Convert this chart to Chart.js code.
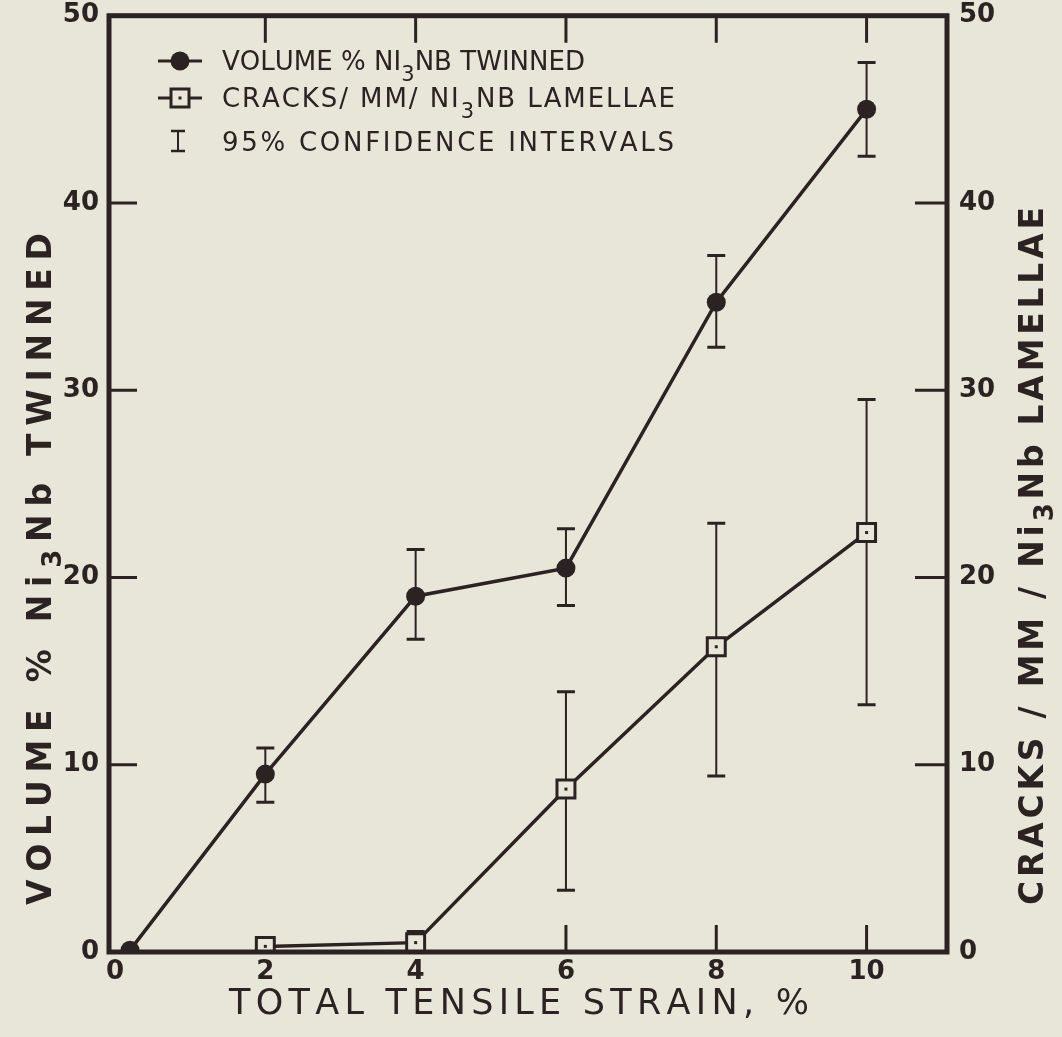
<!DOCTYPE html>
<html>
<head>
<meta charset="utf-8">
<title>Volume % Ni3Nb twinned and cracks vs tensile strain</title>
<script src="https://cdn.jsdelivr.net/npm/chart.js@4/dist/chart.umd.min.js"></script>
<style>
  html, body { margin: 0; padding: 0; background: #e8e6d8; }
  #wrap { width: 1062px; height: 1037px; }
</style>
</head>
<body>
<div id="wrap"><canvas id="chart" width="1062" height="1037"></canvas></div>
<script>
// data
const strain = [0.2, 2, 4, 6, 8, 10];
const volumeTwinned = [0.1, 9.5, 19.0, 20.5, 34.7, 45.0];
const volumeLow = [null, 8.0, 16.7, 18.5, 32.3, 42.5];
const volumeHigh = [null, 10.9, 21.5, 22.6, 37.2, 47.5];

const crackStrain = [2, 4, 6, 8, 10];
const cracksPerMm = [0.3, 0.5, 8.7, 16.3, 22.4];
const cracksLow = [null, 0.0, 3.3, 9.4, 13.2];
const cracksHigh = [null, 1.1, 13.9, 22.9, 29.5];

const xTickValues = [0, 2, 4, 6, 8, 10];
const yTickValues = [0, 10, 20, 30, 40, 50];

// text pieces, [text, isSubscript]
const xTitle = [['TOTAL TENSILE STRAIN, %', 0]];
const yTitle = [['VOLUME % Ni', 0], ['3', 1], ['Nb TWINNED', 0]];
const y2Title = [['CRACKS / MM / Ni', 0], ['3', 1], ['Nb LAMELLAE', 0]];
const legendRows = [
  [['VOLUME % NI', 0], ['3', 1], ['NB TWINNED', 0]],
  [['CRACKS/ MM/ NI', 0], ['3', 1], ['NB LAMELLAE', 0]],
  [['95% CONFIDENCE INTERVALS', 0]]
];

const ink = '#2b2321';
const paper = '#e8e6d8';
const FONT = '"DejaVu Sans", "Liberation Sans", sans-serif';

// draws letters spread out to fill a given width, with lowered subscripts
function drawParts(ctx, parts, x, y, width, size, weight, align, subDrop) {
  const drop = subDrop === undefined ? 0.42 : subDrop;
  const glyphs = [];
  parts.forEach(p => {
    for (const ch of p[0]) glyphs.push({ ch: ch, sub: p[1] });
  });
  let natural = 0;
  glyphs.forEach(g => {
    ctx.font = weight + ' ' + (g.sub ? Math.round(size * 0.8) : size) + 'px ' + FONT;
    g.w = ctx.measureText(g.ch).width;
    natural += g.w;
  });
  const extra = glyphs.length > 1 ? (width - natural) / (glyphs.length - 1) : 0;
  let cx = align === 'center' ? x - width / 2 : x;
  ctx.textAlign = 'left';
  ctx.textBaseline = 'alphabetic';
  glyphs.forEach(g => {
    const s = g.sub ? Math.round(size * 0.8) : size;
    ctx.font = weight + ' ' + s + 'px ' + FONT;
    ctx.fillText(g.ch, cx, y + size * 0.365 + (g.sub ? size * drop : 0));
    cx += g.w + extra;
  });
}

function drawErrorBars(ctx, xs, lows, highs, xScale, yScale) {
  xs.forEach((xv, i) => {
    if (lows[i] === null || highs[i] === null) return;
    const px = xScale.getPixelForValue(xv);
    const lo = yScale.getPixelForValue(lows[i]);
    const hi = yScale.getPixelForValue(highs[i]);
    ctx.lineWidth = 2;
    ctx.beginPath();
    ctx.moveTo(px, lo);
    ctx.lineTo(px, hi);
    ctx.stroke();
    ctx.lineWidth = 3;
    ctx.beginPath();
    ctx.moveTo(px - 9, hi); ctx.lineTo(px + 9, hi);
    ctx.moveTo(px - 9, lo); ctx.lineTo(px + 9, lo);
    ctx.stroke();
  });
}

const errorBarPlugin = {
  id: 'errorBars',
  beforeDatasetsDraw(chart) {
    const ctx = chart.ctx;
    const a = chart.chartArea;
    ctx.save();
    ctx.beginPath();
    ctx.rect(a.left, a.top, a.right - a.left, a.bottom - a.top);
    ctx.clip();
    ctx.strokeStyle = ink;
    drawErrorBars(ctx, strain, volumeLow, volumeHigh, chart.scales.x, chart.scales.y);
    drawErrorBars(ctx, crackStrain, cracksLow, cracksHigh, chart.scales.x, chart.scales.y2);
    ctx.restore();
  }
};

const framePlugin = {
  id: 'frame',
  afterDatasetsDraw(chart) {
    const ctx = chart.ctx;
    const a = chart.chartArea;
    const xs = chart.scales.x, ys = chart.scales.y;
    ctx.save();
    ctx.fillStyle = ink;
    // dot in the middle of each open square
    crackStrain.forEach((xv, i) => {
      const px = xs.getPixelForValue(xv);
      const py = chart.scales.y2.getPixelForValue(cracksPerMm[i]);
      if (py < a.bottom - 3) ctx.fillRect(px - 1.5, py - 1.5, 3, 3);
    });
    ctx.strokeStyle = ink;
    // inward tick marks
    ctx.lineWidth = 3;
    ctx.beginPath();
    xTickValues.forEach(v => {
      const px = xs.getPixelForValue(v);
      if (v > 0) { ctx.moveTo(px, a.top); ctx.lineTo(px, a.top + 27); }
      if (v >= 6) { ctx.moveTo(px, a.bottom); ctx.lineTo(px, a.bottom - 27); }
    });
    yTickValues.forEach(v => {
      if (v === 0 || v === 50) return;
      const py = ys.getPixelForValue(v);
      ctx.moveTo(a.left, py); ctx.lineTo(a.left + 28, py);
      ctx.moveTo(a.right, py); ctx.lineTo(a.right - 32, py);
    });
    ctx.stroke();
    // box
    ctx.lineWidth = 5;
    ctx.lineJoin = 'miter';
    ctx.strokeRect(a.left, a.top, a.right - a.left, a.bottom - a.top);
    ctx.restore();
  }
};

const textPlugin = {
  id: 'texts',
  afterDraw(chart) {
    const ctx = chart.ctx;
    ctx.save();
    ctx.fillStyle = ink;
    ctx.strokeStyle = ink;

    // legend
    const lx = 180, tx = 222;
    const rowY = [61, 98, 142];
    ctx.lineWidth = 3;
    ctx.beginPath();
    ctx.moveTo(158, rowY[0]); ctx.lineTo(202, rowY[0]);
    ctx.moveTo(158, rowY[1]); ctx.lineTo(202, rowY[1]);
    ctx.stroke();
    ctx.beginPath();
    ctx.arc(lx, rowY[0], 9.5, 0, Math.PI * 2);
    ctx.fill();
    ctx.fillStyle = paper;
    ctx.fillRect(lx - 9, rowY[1] - 9, 18, 18);
    ctx.fillStyle = ink;
    ctx.strokeRect(lx - 9, rowY[1] - 9, 18, 18);
    ctx.fillRect(lx - 1.5, rowY[1] - 1.5, 3, 3);
    ctx.lineWidth = 2;
    ctx.beginPath();
    ctx.moveTo(lx - 2, rowY[2] - 11); ctx.lineTo(lx - 2, rowY[2] + 9);
    ctx.stroke();
    ctx.lineWidth = 2.5;
    ctx.beginPath();
    ctx.moveTo(lx - 9, rowY[2] - 11); ctx.lineTo(lx + 5, rowY[2] - 11);
    ctx.moveTo(lx - 9, rowY[2] + 9); ctx.lineTo(lx + 5, rowY[2] + 9);
    ctx.stroke();
    drawParts(ctx, legendRows[0], tx, rowY[0], 363, 26, 'normal', 'left');
    drawParts(ctx, legendRows[1], tx, rowY[1], 453, 26, 'normal', 'left');
    drawParts(ctx, legendRows[2], tx, rowY[2], 452, 26, 'normal', 'left');

    // x axis title
    drawParts(ctx, xTitle, 519, 1001, 580, 35, 'normal', 'center');

    // left title
    ctx.save();
    ctx.translate(39, 569);
    ctx.rotate(-Math.PI / 2);
    drawParts(ctx, yTitle, 0, 0, 672, 33, 'bold', 'center', 0.3);
    ctx.restore();

    // right title
    ctx.save();
    ctx.translate(1031, 556);
    ctx.rotate(-Math.PI / 2);
    drawParts(ctx, y2Title, 0, 0, 698, 33, 'bold', 'center', 0.3);
    ctx.restore();

    ctx.restore();
  }
};

const tickFont = { family: FONT, size: 26, weight: 'bold' };

function noPad(s) {
  s.paddingTop = 0;
  s.paddingBottom = 0;
  s.paddingLeft = 0;
  s.paddingRight = 0;
}

new Chart(document.getElementById('chart'), {
  type: 'line',
  data: {
    datasets: [
      {
        label: 'Volume % Ni3Nb twinned',
        data: strain.map((x, i) => ({ x: x, y: volumeTwinned[i] })),
        yAxisID: 'y',
        clip: 2,
        borderColor: ink,
        borderWidth: 3.5,
        pointStyle: 'circle',
        pointRadius: 9.5,
        pointBackgroundColor: ink,
        pointBorderColor: ink,
        pointBorderWidth: 0,
        tension: 0
      },
      {
        label: 'Cracks/mm/Ni3Nb lamellae',
        data: crackStrain.map((x, i) => ({ x: x, y: cracksPerMm[i] })),
        yAxisID: 'y2',
        clip: 2,
        borderColor: ink,
        borderWidth: 3.5,
        pointStyle: 'rect',
        pointRadius: 12.7,
        pointBackgroundColor: paper,
        pointBorderColor: ink,
        pointBorderWidth: 3,
        tension: 0
      }
    ]
  },
  options: {
    responsive: false,
    animation: false,
    layout: { padding: { top: 13, left: 0, right: 0, bottom: 0 } },
    plugins: {
      legend: { display: false },
      tooltip: { enabled: false }
    },
    scales: {
      x: {
        type: 'linear',
        min: -0.08,
        max: 11.07,
        grid: { display: false },
        border: { display: false },
        afterBuildTicks: s => { s.ticks = xTickValues.map(v => ({ value: v })); },
        afterFit: s => { s.height = 85; noPad(s); },
        ticks: { color: ink, font: tickFont, padding: -3, maxRotation: 0 }
      },
      y: {
        type: 'linear',
        position: 'left',
        min: 0,
        max: 50,
        grid: { display: false },
        border: { display: false },
        afterBuildTicks: s => { s.ticks = yTickValues.map(v => ({ value: v })); },
        afterFit: s => { s.width = 109; noPad(s); },
        ticks: { color: ink, font: tickFont, padding: 2 }
      },
      y2: {
        type: 'linear',
        position: 'right',
        min: 0,
        max: 50,
        grid: { display: false },
        border: { display: false },
        afterBuildTicks: s => { s.ticks = yTickValues.map(v => ({ value: v })); },
        afterFit: s => { s.width = 115; noPad(s); },
        ticks: { color: ink, font: tickFont, padding: 4 }
      }
    }
  },
  plugins: [errorBarPlugin, framePlugin, textPlugin]
});
</script>
</body>
</html>
